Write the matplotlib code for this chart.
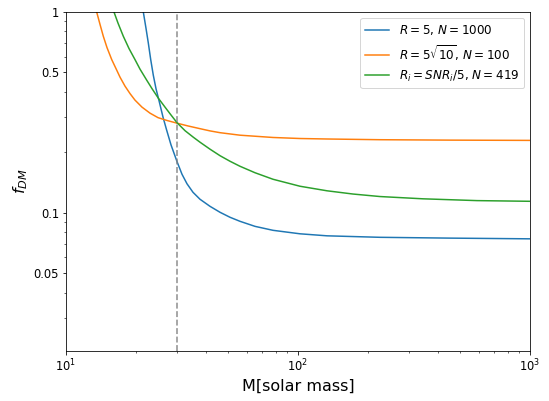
import matplotlib
matplotlib.use("Agg")
import matplotlib.pyplot as plt
from matplotlib.ticker import FixedLocator, FixedFormatter, NullFormatter

# Data
M_blue = [21.54, 22.13, 22.63, 23.18, 23.78, 24.43, 25.17, 26.19, 27.12, 28.35,
          30.09, 31.62, 33.23, 35.27, 37.81, 41.76, 46.11, 50.92, 56.23, 65.28,
          78.04, 102.0, 133.4, 225.6, 452.0, 1000]
f_blue = [1.0, 0.8272, 0.7022, 0.5796, 0.4850, 0.4150, 0.3620, 0.2995, 0.2594, 0.2180,
          0.1800, 0.1556, 0.1395, 0.1265, 0.1168, 0.1077, 0.1006, 0.0950, 0.0907, 0.0856,
          0.0818, 0.0786, 0.0768, 0.0755, 0.0748, 0.0742]

M_orange = [13.56, 14.02, 14.48, 15.02, 15.74, 16.54, 17.09, 17.96, 18.88, 19.83,
            21.26, 23.02, 24.92, 27.18, 30.09, 33.57, 37.81, 41.76, 46.11, 56.23,
            78.04, 102.0, 133.4, 225.6, 452.0, 1000]
f_orange = [1.0, 0.8663, 0.7574, 0.6652, 0.5796, 0.5136, 0.4739, 0.4274, 0.3923, 0.3641,
            0.3359, 0.3135, 0.2978, 0.2885, 0.2795, 0.2707, 0.2624, 0.2558, 0.2506, 0.2435,
            0.2372, 0.2344, 0.2331, 0.2312, 0.2301, 0.2294]

M_green = [16.10, 16.75, 17.66, 18.69, 19.83, 20.84, 22.27, 23.48, 24.99, 26.72,
           28.07, 30.09, 32.59, 35.38, 37.81, 41.76, 46.11, 50.92, 56.23, 65.28,
           78.04, 102.0, 133.4, 172.7, 225.6, 345.7, 591.0, 1000]
f_green = [1.0, 0.8814, 0.7574, 0.6576, 0.5796, 0.5196, 0.4580, 0.4153, 0.3725, 0.3359,
           0.3116, 0.2811, 0.2564, 0.2379, 0.2247, 0.2074, 0.1925, 0.1806, 0.1705, 0.1583,
           0.1469, 0.1356, 0.1287, 0.1240, 0.1205, 0.1174, 0.1150, 0.1141]

labels = [r'$R=5$, $N=1000$', r'$R=5\sqrt{10}$, $N=100$', r'$R_i=SNR_i/5$, $N=419$']
M_cut = 30
ytick_vals = [0.05, 0.1, 0.5, 1]
ytick_labels = ['0.05', '0.1', '0.5', '1']

W, H = 549, 401
fig = plt.figure(figsize=(W / 72, H / 72), dpi=72)
ax = fig.add_axes([66 / W, 1 - 351 / H, (530 - 66) / W, (351 - 12) / H])

ax.plot(M_blue, f_blue, color='#1f77b4', lw=1.5, label=labels[0])
ax.plot(M_orange, f_orange, color='#ff7f0e', lw=1.5, label=labels[1])
ax.plot(M_green, f_green, color='#2ca02c', lw=1.5, label=labels[2])
ax.axvline(M_cut, color='gray', ls='--', lw=1.6, alpha=0.85)

ax.set_xscale('log')
ax.set_yscale('log')
ax.set_xlim(10, 1000)
ax.set_ylim(0.0205, 1)
ax.yaxis.set_major_locator(FixedLocator(ytick_vals))
ax.yaxis.set_major_formatter(FixedFormatter(ytick_labels))
ax.yaxis.set_minor_formatter(NullFormatter())

ax.tick_params(labelsize=11.5)
ax.set_xlabel('M[solar mass]', fontsize=16)
ax.set_ylabel(r'$f_{DM}$', fontsize=16)
ax.legend(loc='upper right', fontsize=12)

fig.savefig('out.png', dpi=72)
